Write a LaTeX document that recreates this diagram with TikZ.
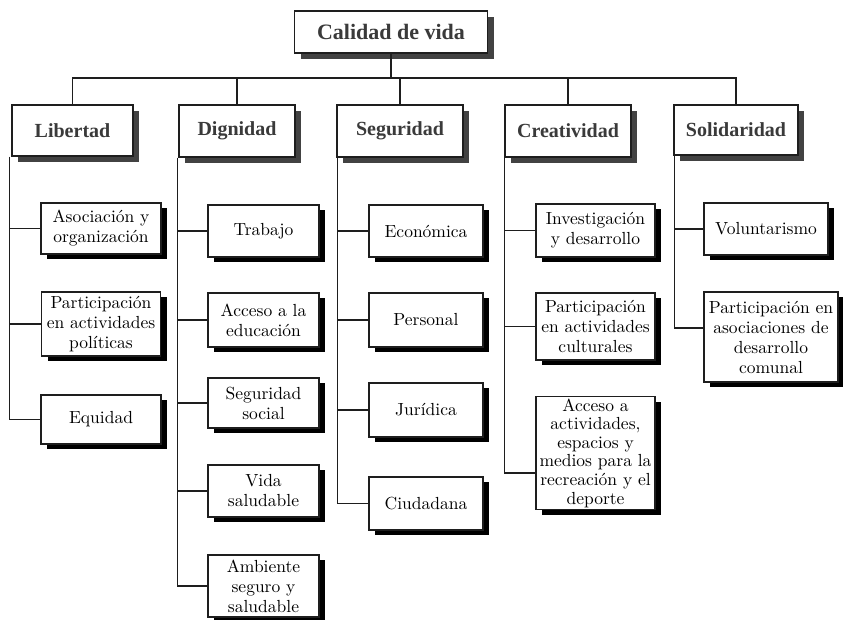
\documentclass[tikz,border=0pt]{standalone}
\usepackage{fontspec}
\newfontfamily\titlefont{Liberation Serif}
\newfontfamily\itemfont{lmroman10-regular.otf}
\usetikzlibrary{shadows,calc}
\definecolor{ink}{HTML}{1E1E1E}
\definecolor{titlegray}{HTML}{3A3A3A}
\definecolor{shadowgray}{HTML}{424242}
\tikzset{
  box/.style={draw=ink, line width=1.4pt, fill=white, inner sep=0pt, align=center, anchor=center},
  titlebox/.style={box, text=titlegray, font=\titlefont\bfseries\fontsize{20}{22}\selectfont,
    drop shadow={shadow xshift=6pt, shadow yshift=-6pt, fill=shadowgray, opacity=1}},
  itembox/.style={box, text=black, font=\itemfont\fontsize{17.5}{20}\selectfont,
    drop shadow={shadow xshift=6pt, shadow yshift=-5pt, fill=black, opacity=1}},
  link/.style={draw=ink, line width=1.4pt},
}
\begin{document}
\begin{tikzpicture}[x=1pt,y=-1pt]
\useasboundingbox (0,0) rectangle (843,620);
% top
\node[titlebox, font=\titlefont\bfseries\fontsize{22}{24}\selectfont, minimum width=193, minimum height=42] (top) at (391,32) {Calidad de vida};
% categories
\node[titlebox, minimum width=121, minimum height=51] (lib) at (72.5,130.5) {Libertad};
\node[titlebox, minimum width=116, minimum height=52] (dig) at (237,131) {Dignidad};
\node[titlebox, minimum width=126, minimum height=52] (seg) at (400,131) {Seguridad};
\node[titlebox, minimum width=126, minimum height=52] (cre) at (568,131) {Creatividad};
\node[titlebox, minimum width=124, minimum height=50] (sol) at (736,130) {Solidaridad};
% Libertad
\node[itembox, minimum width=120, minimum height=51] (l1) at (101,228.5) {Asociación y\\organización};
\node[itembox, minimum width=119, minimum height=64] (l2) at (101,324) {Participación\\en actividades\\políticas};
\node[itembox, minimum width=120, minimum height=49] (l3) at (101,419.5) {Equidad};
% Dignidad
\node[itembox, minimum width=111, minimum height=52] (d1) at (263.5,231) {Trabajo};
\node[itembox, minimum width=111, minimum height=54] (d2) at (263.5,320) {Acceso a la\\educación};
\node[itembox, minimum width=111, minimum height=50] (d3) at (263.5,403) {Seguridad\\social};
\node[itembox, minimum width=111, minimum height=52] (d4) at (263.5,491) {Vida\\saludable};
\node[itembox, minimum width=111, minimum height=62] (d5) at (263.5,586) {Ambiente\\seguro y\\saludable};
% Seguridad
\node[itembox, minimum width=114, minimum height=52] (s1) at (426,231) {Económica};
\node[itembox, minimum width=114, minimum height=54] (s2) at (426,320) {Personal};
\node[itembox, minimum width=114, minimum height=54] (s3) at (426,410) {Jurídica};
\node[itembox, minimum width=114, minimum height=53] (s4) at (426,503.5) {Ciudadana};
% Creatividad
\node[itembox, minimum width=119, minimum height=53] (c1) at (595.5,230.5) {Investigación\\y desarrollo};
\node[itembox, minimum width=119, minimum height=67] (c2) at (595.5,326.5) {Participación\\en actividades\\culturales};
\node[itembox, minimum width=119, minimum height=113, font=\itemfont\fontsize{17.5}{18.6}\selectfont] (c3) at (595.5,453) {Acceso a\\actividades,\\espacios y\\medios para la\\recreación y el\\deporte};
% Solidaridad
\node[itembox, minimum width=124, minimum height=52] (o1) at (766,229) {Voluntarismo};
\node[itembox, minimum width=134, minimum height=90] (o2) at (771,337) {Participación en\\asociaciones de\\desarrollo\\comunal};
% bus
\coordinate (bus) at (0,78);
\draw[link] (top.south) -- (top.south |- bus);
\draw[link] (lib.north) -- (lib.north |- bus) -- (sol.north |- bus) -- (sol.north);
\draw[link] (dig.north) -- (dig.north |- bus);
\draw[link] (seg.north) -- (seg.north |- bus);
\draw[link] (cre.north) -- (cre.north |- bus);
% trees
\coordinate (lt) at ([xshift=-2pt]lib.south west);
\draw[link] (lt) |- (l3.west);
\draw[link] (lt |- l1.west) -- (l1.west);
\draw[link] (lt |- l2.west) -- (l2.west);
\coordinate (dt) at ([xshift=-1pt]dig.south west);
\draw[link] (dt) |- (d5.west);
\foreach \n in {d1,d2,d3,d4}{\draw[link] (dt |- \n.west) -- (\n.west);}
\coordinate (st) at ([xshift=1pt]seg.south west);
\draw[link] (st) |- (s4.west);
\foreach \n in {s1,s2,s3}{\draw[link] (st |- \n.west) -- (\n.west);}
\coordinate (ct) at (cre.south west);
\coordinate (c3c) at ($(c3.west)+(0,20)$);
\draw[link] (ct) |- (c3c);
\foreach \n in {c1,c2}{\draw[link] (ct |- \n.west) -- (\n.west);}
\coordinate (ot) at ([xshift=1pt]sol.south west);
\coordinate (o2c) at ($(o2.west)+(0,-9)$);
\draw[link] (ot) |- (o2c);
\draw[link] (ot |- o1.west) -- (o1.west);
\end{tikzpicture}
\end{document}
